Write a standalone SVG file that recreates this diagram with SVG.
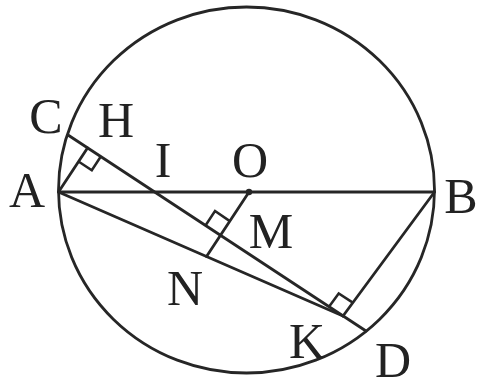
<svg xmlns="http://www.w3.org/2000/svg" width="479" height="389" viewBox="0 0 479 389">
<style>
.ln{stroke:#262626;stroke-width:2.8;fill:none;stroke-linecap:round;stroke-linejoin:round}
.mk{stroke:#262626;stroke-width:2.5;fill:none}
.lb{font-family:"Liberation Serif","Times New Roman",serif;font-size:50px;fill:#222;text-anchor:middle}
</style>
<rect width="479" height="389" fill="#fff"/>
<g id="circle">
<ellipse cx="246.5" cy="190" rx="188" ry="183" class="ln" stroke-width="3"/>
</g>
<g id="connectors">
<line class="ln" x1="58.5" y1="192" x2="434.5" y2="192"/>
<line class="ln" x1="68" y1="135" x2="366" y2="331"/>
<line class="ln" x1="58.5" y1="192" x2="87.5" y2="148"/>
<line class="ln" x1="58.5" y1="192" x2="343" y2="316"/>
<line class="ln" x1="434.5" y1="192" x2="343" y2="316"/>
<line class="ln" x1="249" y1="192" x2="206.5" y2="256.5"/>
</g>
<g id="marks">
<polyline class="mk" points="100.8,156.5 91.8,170.3 78.5,161.5"/>
<polyline class="mk" points="205.5,225.5 215,211 229.8,221.1"/>
<polyline class="mk" points="329,306.8 338.7,293.4 352.8,302.6"/>
<circle cx="249" cy="192" r="3.2" fill="#262626"/>
</g>
<g id="labels">
<text class="lb" x="46" y="133">C</text>
<text class="lb" x="116" y="137">H</text>
<text class="lb" x="163" y="177">I</text>
<text class="lb" x="250" y="177">O</text>
<text class="lb" x="27" y="207">A</text>
<text class="lb" x="461" y="213">B</text>
<text class="lb" x="271" y="248">M</text>
<text class="lb" x="185" y="305">N</text>
<text class="lb" x="307" y="358">K</text>
<text class="lb" x="393" y="377">D</text>
</g>
</svg>
